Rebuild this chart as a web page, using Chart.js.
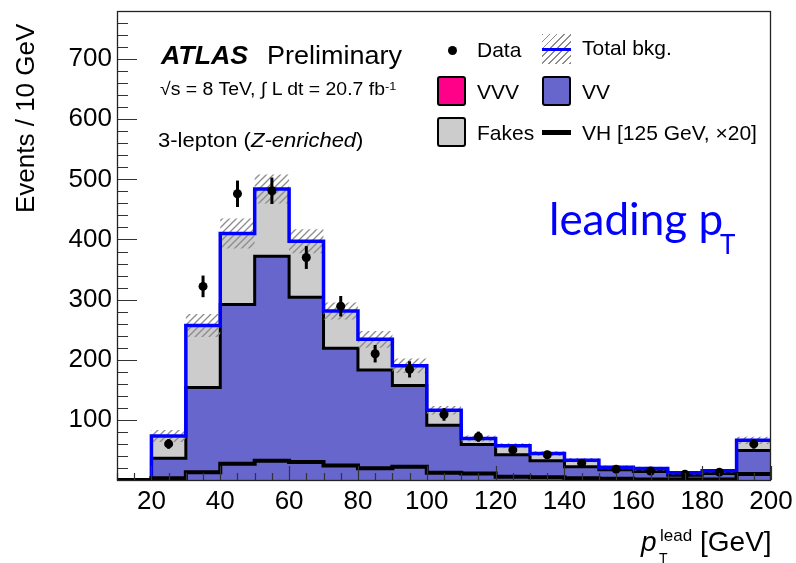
<!DOCTYPE html>
<html><head><meta charset="utf-8">
<script src="https://cdn.jsdelivr.net/npm/chart.js@4.4.0/dist/chart.umd.min.js"></script>
<style>
html,body{margin:0;padding:0;background:#fff;}
#wrap{position:relative;width:796px;height:563px;overflow:hidden;font-family:"Liberation Sans",Arial,Helvetica,sans-serif;color:#000;}
#c{position:absolute;left:0;top:0;}
.t{position:absolute;white-space:nowrap;line-height:1;transform-origin:0 0;}
.box{position:absolute;box-sizing:border-box;border:2px solid #000;border-radius:3px;}
</style></head><body>
<div id="wrap"><canvas id="c" width="796" height="563"></canvas></div>
<script>
// ---- data (bins of 10 GeV from 10 to 200 GeV) ----
const binEdges = [10,20,30,40,50,60,70,80,90,100,110,120,130,140,150,160,170,180,190,200];
const vv       = [0, 36,154,292,372,304,219,183,157, 91, 59, 42, 32, 22, 17, 14,  8, 11, 49];
const fakes    = [0, 37,103,118,112, 93, 62, 51, 33, 25, 10, 15, 12, 11,  4,  5,  4,4.5, 17];
const vhX20    = [0,  3, 13, 27, 32, 30, 24,19.5,22, 12, 11,5.5,4.5,  3,  2,  1,  1,  1, 10];
const bkgErr   = [0, 10, 19, 25, 24, 20, 14, 14, 12,  7,  5,  4,  4,3.5,  3,  3,  3,  3,  6];
const dataCounts=[null,60,322,476,481,370,289,210,184,109,72, 50, 42, 28, 18, 15,9.5, 13, 60];
const dataErr  = [null,8, 18, 22, 22, 19, 17,14.5,13.5,10.5,8.5,7,6.5,5.3,4.2,3.9,3.1,3.6,7.7];
const yTickLabels = [100,200,300,400,500,600,700];
const xTickLabels = [20,40,60,80,100,120,140,160,180,200];

const total = vv.map((v,i)=>v+fakes[i]);
function steps(vals){
  const pts = vals.map((v,i)=>({x:binEdges[i], y:v}));
  pts.push({x:binEdges[binEdges.length-1], y:vals[vals.length-1]});
  return pts;
}
const centers = binEdges.slice(0,-1).map((e,i)=>(e+binEdges[i+1])/2);

// hatch pattern
const pc = document.createElement('canvas'); pc.width=7; pc.height=7;
const pg = pc.getContext('2d');
pg.strokeStyle='#8c8c8c'; pg.lineWidth=1.3;
pg.beginPath(); pg.moveTo(-1,8); pg.lineTo(8,-1); pg.moveTo(-1,1); pg.lineTo(1,-1); pg.moveTo(6,8); pg.lineTo(8,6); pg.stroke();
const hatch = pg.createPattern(pc,'repeat');

Chart.defaults.font.family = '"Liberation Sans", Arial, sans-serif';

const lineBase = {stepped:true, pointRadius:0, tension:0, borderJoinStyle:'miter', borderCapStyle:'butt'};
const datasets = [
  Object.assign({label:'VV', data:steps(vv), borderColor:'#000', borderWidth:3, backgroundColor:'#6666cc', fill:'origin', order:9}, lineBase),
  Object.assign({label:'Fakes', data:steps(total), borderWidth:0, borderColor:'rgba(0,0,0,0)', backgroundColor:'#cccccc', fill:0, order:10}, lineBase),
  Object.assign({label:'VH', data:steps(vhX20), borderColor:'#000', borderWidth:4, fill:false, order:4}, lineBase),
  Object.assign({label:'errUp', data:steps(total.map((v,i)=>v+bkgErr[i])), borderWidth:0, borderColor:'rgba(0,0,0,0)', backgroundColor:hatch, fill:4, order:7}, lineBase),
  Object.assign({label:'errDn', data:steps(total.map((v,i)=>v-bkgErr[i])), borderWidth:0, borderColor:'rgba(0,0,0,0)', fill:false, order:7}, lineBase),
  Object.assign({label:'Total bkg.', data:steps(total), borderColor:'#0000ff', borderWidth:3.5, fill:false, order:5}, lineBase),
  {label:'Data', data:dataCounts.map((v,i)=>({x:centers[i], y:v})), showLine:false, pointRadius:4.5, pointStyle:'circle',
   pointBackgroundColor:'#000', pointBorderColor:'#000', pointBorderWidth:0, order:1}
];

const errorBars = {
  id:'errorBars',
  afterDatasetsDraw(chart){
    const {ctx, scales:{x,y}} = chart;
    ctx.save(); ctx.strokeStyle='#000'; ctx.lineWidth=3;
    dataCounts.forEach((v,i)=>{
      if(v==null) return;
      const px = x.getPixelForValue(centers[i]);
      ctx.beginPath();
      ctx.moveTo(px, y.getPixelForValue(v-dataErr[i]));
      ctx.lineTo(px, y.getPixelForValue(v+dataErr[i]));
      ctx.stroke();
    });
    ctx.restore();
  }
};
const frameTicks = {
  id:'frameTicks',
  afterDraw(chart){
    const {ctx, chartArea:a, scales:{x,y}} = chart;
    ctx.save();
    ctx.strokeStyle='#333'; ctx.lineWidth=1.2;
    ctx.beginPath();
    for(let v=0; v<=780; v+=20){
      const py = Math.round(y.getPixelForValue(v))+0.5;
      const len = (v%100===0)?20:11;
      ctx.moveTo(a.left, py); ctx.lineTo(a.left+len, py);
    }
    for(let v=10; v<=200; v+=5){
      const px = Math.round(x.getPixelForValue(v))+0.5;
      const len = (v%20===0)?14:7;
      ctx.moveTo(px, a.bottom); ctx.lineTo(px, a.bottom-len);
    }
    ctx.stroke();
    ctx.lineWidth=1.3; ctx.strokeStyle='#222';
    ctx.strokeRect(a.left+0.5, a.top+0.5, a.right-a.left-1, a.bottom-a.top);
    ctx.restore();
  }
};

new Chart(document.getElementById('c'), {
  type:'line',
  data:{datasets},
  options:{
    responsive:false, animation:false, devicePixelRatio:1,
    layout:{padding:{left:0,right:25,top:11,bottom:0}},
    plugins:{legend:{display:false}, tooltip:{enabled:false}, filler:{propagate:false}},
    scales:{
      x:{type:'linear', min:10, max:200,
         afterBuildTicks(s){ s.ticks = xTickLabels.map(v=>({value:v})); },
         afterFit(s){ s.height = 83; s.paddingLeft = 0; s.paddingRight = 0; },
         grid:{display:false, drawTicks:false}, border:{display:false},
         ticks:{autoSkip:false, maxRotation:0, padding:6, color:'#000', font:{size:26},
                callback:(v)=> String(v)}},
      y:{type:'linear', min:0, max:780,
         afterBuildTicks(s){ s.ticks = yTickLabels.map(v=>({value:v})); },
         afterFit(s){ s.width = 117; s.paddingTop = 0; s.paddingBottom = 0; },
         grid:{display:false, drawTicks:false}, border:{display:false},
         ticks:{autoSkip:false, padding:5, color:'#000', font:{size:26},
                callback:(v)=> String(v)}}
    }
  },
  plugins:[errorBars, frameTicks]
});

// ---- text overlays ----
const wrap = document.getElementById('wrap');
function txt(html, left, baseline, size, extra){
  const d = document.createElement('div');
  d.className='t';
  d.innerHTML = html;
  d.style.left = left+'px';
  d.style.top = (baseline - 0.8465*size)+'px';
  d.style.fontSize = size+'px';
  if(extra) Object.assign(d.style, extra);
  wrap.appendChild(d);
  return d;
}
function box(l,t,w,h,bg,extra){
  const d=document.createElement('div'); d.className='box';
  Object.assign(d.style,{left:l+'px',top:t+'px',width:w+'px',height:h+'px',background:bg}, extra||{});
  wrap.appendChild(d); return d;
}
txt('ATLAS', 161, 64.3, 25, {fontWeight:'bold', fontStyle:'italic', transform:'scaleX(1.07)'});
txt('Preliminary', 267, 64.3, 25, {transform:'scaleX(1.08)'});
txt('√s = 8 TeV, ∫ L dt = 20.7 fb<span style="position:relative;top:-0.45em;font-size:0.65em">-1</span>', 160, 95.5, 18, {transform:'scaleX(1.08)'});
txt('3-lepton (<i>Z-enriched</i>)', 158, 146.5, 20, {transform:'scaleX(1.1)'});

// legend
const dot=document.createElement('div');
Object.assign(dot.style,{position:'absolute',left:'447.5px',top:'46px',width:'9px',height:'9px',borderRadius:'50%',background:'#000'});
wrap.appendChild(dot);
txt('Data', 477, 56.5, 21);
box(542,34,29,30,'repeating-linear-gradient(135deg, #8c8c8c 0 1.3px, transparent 1.3px 5px)',{border:'none',borderRadius:'0'});
const bl=document.createElement('div');
Object.assign(bl.style,{position:'absolute',left:'542px',top:'47.5px',width:'29px',height:'3px',background:'#0000ff'});
wrap.appendChild(bl);
txt('Total bkg.', 582, 54.5, 21);
box(437,76,29,30,'#ff0088');
txt('VVV', 477, 99, 21);
box(542,76,29,30,'#6666cc');
txt('VV', 582, 99, 21);
box(437,117,29,30,'#cccccc');
txt('Fakes', 477, 139.5, 21);
const vl=document.createElement('div');
Object.assign(vl.style,{position:'absolute',left:'542px',top:'130px',width:'29px',height:'4.5px',background:'#000'});
wrap.appendChild(vl);
txt('VH [125 GeV, ×20]', 582, 139.5, 21);

// blue label
txt('leading p', 549, 235, 44, {fontFamily:'Lato, sans-serif', color:'#0000ff', top:(235-0.887*44)+'px'});
txt('T', 720, 254, 26, {fontFamily:'Lato, sans-serif', color:'#0000ff', top:(254-0.887*26)+'px'});

// axis titles
txt('p', 641, 552, 28, {fontStyle:'italic'});
txt('lead', 660, 541, 17);
txt('T', 659, 563, 14);
txt('[GeV]', 700, 552, 28);
const yt = document.createElement('div');
yt.className='t'; yt.textContent='Events / 10 GeV';
Object.assign(yt.style,{left:'0px',top:'0px',fontSize:'26px',transform:'translate(12px,213px) rotate(-90deg)'});
wrap.appendChild(yt);
</script>
</body></html>
